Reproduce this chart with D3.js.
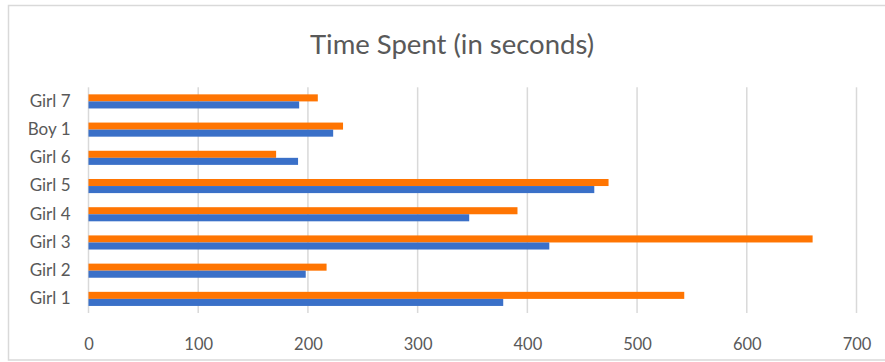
<!DOCTYPE html>
<html>
<head>
<meta http-equiv="Content-Type" content="text/html;charset=utf-8"/>
<style>
  body { margin: 0; background: #fff; }
  text { font-family: Lato, "Open Sans", sans-serif; fill: #595959; }
</style>
</head>
<body>
  <svg id="chart"></svg>
  <script src="https://d3js.org/d3.v7.min.js"></script>
  <script>
  // Data (bottom to top, as drawn)
  var categories = ['Girl 1', 'Girl 2', 'Girl 3', 'Girl 4', 'Girl 5', 'Girl 6', 'Boy 1', 'Girl 7'];
  var blueValues = [378, 198, 420, 347, 461, 191, 223, 192];
  var orangeValues = [543, 217, 660, 391, 474, 171, 232, 209];
  var xTicks = [0, 100, 200, 300, 400, 500, 600, 700];
  var titleText = 'Time Spent (in seconds)';

  var config = {
    width: 885,
    height: 362,
    plot: { left: 88.5, right: 856.5, top: 87.3, bottom: 313 },
    blue: '#3a70c8',
    orange: '#ff7502',
    grid: '#d9d9d9'
  };

  var svg = d3.select('#chart')
    .attr('width', config.width)
    .attr('height', config.height);

  // Chart border
  svg.append('rect')
    .attr('x', 8.5).attr('y', 5.5)
    .attr('width', config.width).attr('height', 354.5)
    .attr('fill', 'none')
    .attr('stroke', '#d9d9d9')
    .attr('stroke-width', 1.5);

  var x = d3.scaleLinear()
    .domain([0, 700])
    .range([config.plot.left, config.plot.right]);

  // Top of the chart is the last category, like Excel does it
  var y = d3.scaleBand()
    .domain(categories.slice().reverse())
    .range([config.plot.top, config.plot.bottom])
    .paddingInner(0.5)
    .paddingOuter(0.25);

  var series = d3.scaleBand()
    .domain(['orange', 'blue'])
    .range([0, y.bandwidth()]);

  // Gridlines
  svg.append('g')
    .selectAll('line')
    .data(xTicks)
    .join('line')
    .attr('x1', function(d) { return x(d); })
    .attr('x2', function(d) { return x(d); })
    .attr('y1', config.plot.top)
    .attr('y2', config.plot.bottom)
    .attr('stroke', config.grid)
    .attr('stroke-width', 1.5);

  // Bars
  var rows = categories.map(function(c, i) {
    return { cat: c, blue: blueValues[i], orange: orangeValues[i] };
  });
  var groups = svg.append('g')
    .selectAll('g')
    .data(rows)
    .join('g')
    .attr('transform', function(d) { return 'translate(0,' + y(d.cat) + ')'; });

  ['orange', 'blue'].forEach(function(key) {
    groups.append('rect')
      .attr('x', x(0))
      .attr('y', series(key))
      .attr('width', function(d) { return x(d[key]) - x(0); })
      .attr('height', series.bandwidth())
      .attr('fill', config[key]);
  });

  // X axis labels
  var xAxis = svg.append('g')
    .attr('transform', 'translate(0,' + (config.plot.bottom + 25) + ')')
    .call(d3.axisBottom(x).tickValues(xTicks).tickSize(0).tickPadding(0));
  xAxis.select('.domain').remove();
  xAxis.selectAll('text')
    .attr('font-size', 16.5)
    .attr('fill', '#595959')
    .style('font-family', 'Lato, "Open Sans", sans-serif');

  // Y axis labels
  var yAxis = svg.append('g')
    .attr('transform', 'translate(' + (config.plot.left - 18) + ',0)')
    .call(d3.axisLeft(y).tickSize(0).tickPadding(0));
  yAxis.select('.domain').remove();
  yAxis.selectAll('text')
    .attr('font-size', 17)
    .attr('fill', '#595959')
    .style('font-family', 'Lato, "Open Sans", sans-serif');

  // Title
  svg.append('text')
    .attr('x', 452)
    .attr('y', 54)
    .attr('text-anchor', 'middle')
    .attr('font-size', 27.5)
    .text(titleText);
  </script>
</body>
</html>
